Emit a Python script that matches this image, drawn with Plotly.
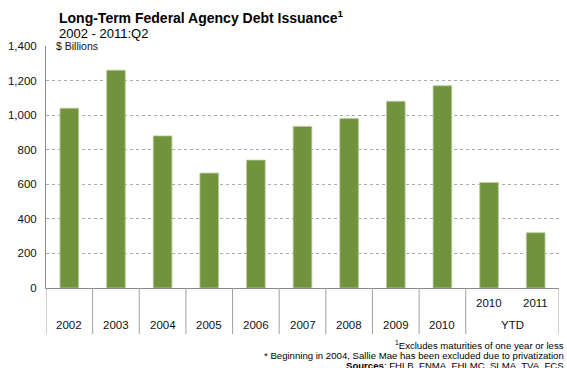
import plotly.graph_objects as go

# Long-term federal agency debt issuance, $ billions
years = ["2002", "2003", "2004", "2005", "2006", "2007", "2008", "2009", "2010", "2010", "2011"]
issuance = [1040, 1260, 880, 665, 740, 935, 980, 1080, 1170, 610, 320]
group_labels = ["2002", "2003", "2004", "2005", "2006", "2007", "2008", "2009", "2010", "YTD"]
ytd_labels = ["2010", "2011"]
y_ticks = [0, 200, 400, 600, 800, 1000, 1200, 1400]

BAR = "#71933e"
AXIS = "#8c8c8c"
FONT = "Liberation Sans, Arial, sans-serif"

# plot area in pixels
L, R, T, B = 46, 8, 46, 80
W, H = 567, 368
PW, PH = W - L - R, H - T - B


def px_x(x):
    return (x - L) / PW


def px_y(y):
    return (H - B - y) / PH


xpos = list(range(len(years)))

fig = go.Figure(go.Bar(
    x=xpos, y=issuance, width=0.4,
    marker=dict(color=BAR, line=dict(color="#b7cb9c", width=0.8)),
    hoverinfo="skip",
))

# category separators under the axis (full height), none inside the YTD group
sep_bottom = px_y(334)
shapes = []
n_single = len(group_labels) - 1
for i in range(n_single + 1):
    shapes.append(dict(type="line", xref="x", yref="paper", x0=i - 0.5, x1=i - 0.5,
                       y0=0, y1=sep_bottom, line=dict(color="#a0a0a0", width=1)))
shapes.append(dict(type="line", xref="x", yref="paper", x0=len(years) - 0.5, x1=len(years) - 0.5,
                   y0=0, y1=sep_bottom, line=dict(color="#a0a0a0", width=1)))

cat_font = dict(family=FONT, size=11.5, color="#111")
annotations = []
for i, lab in enumerate(group_labels[:-1]):
    annotations.append(dict(x=i, y=px_y(325), xref="x", yref="paper", text=lab, showarrow=False,
                            yanchor="middle", font=cat_font))
annotations.append(dict(x=(n_single + len(years) - 1) / 2, y=px_y(325), xref="x", yref="paper",
                        text=group_labels[-1], showarrow=False, yanchor="middle", font=cat_font))
for j, lab in enumerate(ytd_labels):
    annotations.append(dict(x=n_single + j, y=px_y(303), xref="x", yref="paper", text=lab,
                            showarrow=False, yanchor="middle", font=cat_font))

# unit label sitting on the top gridline
annotations.append(dict(x=px_x(54), y=1400, xref="paper", yref="y", text="$ Billions",
                        showarrow=False, xanchor="left", yanchor="middle", bgcolor="white",
                        borderpad=1, font=dict(family=FONT, size=10.5, color="#111")))

# title and subtitle
annotations.append(dict(x=px_x(57), y=px_y(17), xref="paper", yref="paper",
                        text="<b>Long-Term Federal Agency Debt Issuance<sup>1</sup></b>",
                        showarrow=False, xanchor="left", yanchor="middle",
                        font=dict(family=FONT, size=14, color="#000")))
annotations.append(dict(x=px_x(57), y=px_y(33), xref="paper", yref="paper",
                        text="2002 - 2011:Q2", showarrow=False, xanchor="left", yanchor="middle",
                        font=dict(family=FONT, size=13, color="#000")))

# footnotes
notes = [
    ("<sup>1</sup>Excludes maturities of one year or less", 345),
    ("* Beginning in 2004, Sallie Mae has been excluded due to privatization", 355),
    ("<b>Sources</b>: FHLB, FNMA, FHLMC, SLMA, TVA, FCS", 365),
]
for txt, ypix in notes:
    annotations.append(dict(x=px_x(566), y=px_y(ypix), xref="paper", yref="paper",
                            text=txt, showarrow=False, xanchor="right", yanchor="middle",
                            font=dict(family=FONT, size=9.6, color="#000")))

fig.update_layout(
    width=W, height=H,
    margin=dict(l=L, r=R, t=T, b=B),
    paper_bgcolor="white", plot_bgcolor="white",
    showlegend=False,
    shapes=shapes, annotations=annotations,
    xaxis=dict(range=[-0.5, len(years) - 0.5], showticklabels=False, showgrid=False,
               zeroline=False, showline=True, linecolor=AXIS, linewidth=1, ticks=""),
    yaxis=dict(range=[0, 1400], tickvals=y_ticks, tickformat=",d", showgrid=True,
               gridcolor="#aaaaaa", griddash="dot", gridwidth=1, zeroline=False,
               showline=True, linecolor=AXIS, linewidth=1, ticks="outside", ticklen=6,
               tickcolor="rgba(0,0,0,0)", tickfont=dict(family=FONT, size=11.5, color="#111")),
)

fig.write_html("out.html")
